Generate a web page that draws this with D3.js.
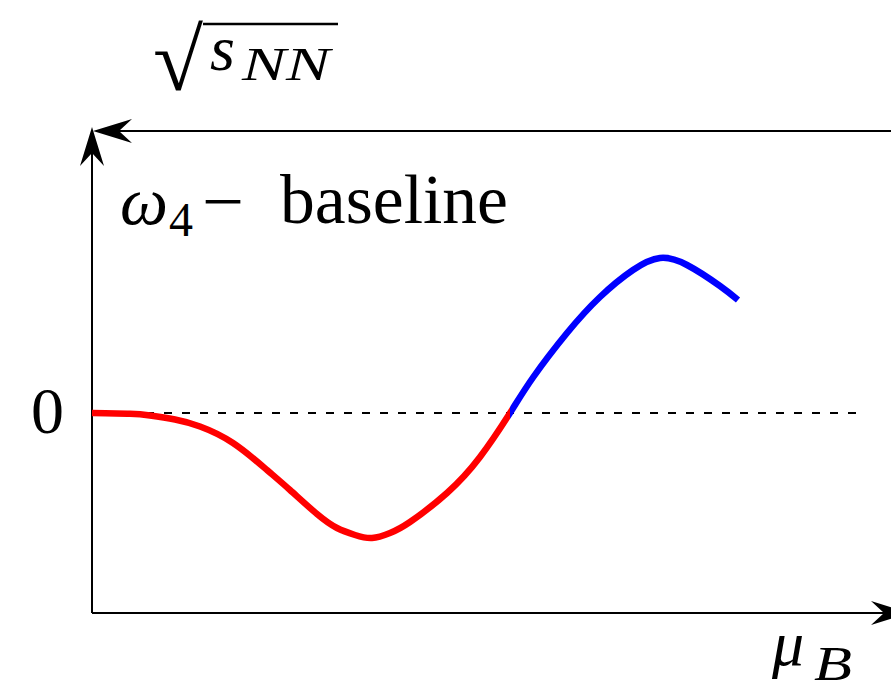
<!DOCTYPE html>
<html>
<head>
<meta charset="utf-8">
<script src="https://cdn.jsdelivr.net/npm/d3@7"></script>
<style>
  html, body { margin: 0; padding: 0; background: #fff; }
  svg { display: block; }
  .math { font-family: "Liberation Serif", "DejaVu Serif", serif; font-style: italic; }
  .roman { font-family: "Liberation Serif", "DejaVu Serif", serif; }
</style>
</head>
<body>
<svg id="chart" width="891" height="698"></svg>
<script>
// Sketch of omega_4 minus its baseline along mu_B:
// negative dip (red) before the zero crossing, positive bump (blue) after it.
const muBRed = [0, 0.38, 0.58, 0.83, 1.08, 1.41, 1.75, 1.98, 2.25, 2.45, 2.63, 2.80, 2.98, 3.18, 3.55, 3.88, 4.18];
const omegaRed = [0, -0.008, -0.025, -0.065, -0.135, -0.30, -0.57, -0.77, -1.01, -1.15, -1.22, -1.25, -1.20, -1.09, -0.80, -0.44, 0];
const muBBlue = [4.18, 4.41, 4.75, 5.08, 5.41, 5.68, 5.95, 6.28, 6.46];
const omegaBlue = [0, 0.355, 0.80, 1.16, 1.43, 1.55, 1.48, 1.27, 1.13];
const zeroTick = ["0"];
const xDomain = [0, 8];
const yDomain = [-2, 2.83];
const dashEnd = 7.66;

const svg = d3.select("#chart");
const x = d3.scaleLinear().domain(xDomain).range([92, 892]);
const y = d3.scaleLinear().domain(yDomain).range([613, 130]);

// stealth-style arrowhead, tip at origin pointing along +x
function arrow(g, tx, ty, angle) {
  const L = 39, W = 24, N = 26;
  g.append("path")
    .attr("d", `M0,0 L${-L},${-W / 2} L${-N},0 L${-L},${W / 2} Z`)
    .attr("transform", `translate(${tx},${ty}) rotate(${angle})`)
    .attr("fill", "#000");
}

const axes = svg.append("g");
// mu_B axis
axes.append("line")
  .attr("x1", x(0)).attr("x2", 891)
  .attr("y1", y(-2)).attr("y2", y(-2))
  .attr("stroke", "#000").attr("stroke-width", 2);
arrow(axes, 910, y(-2), 0);
// vertical axis
axes.append("line")
  .attr("x1", x(0)).attr("x2", x(0))
  .attr("y1", y(-2)).attr("y2", 150)
  .attr("stroke", "#000").attr("stroke-width", 2);
arrow(axes, x(0), 127, -90);
// sqrt(s_NN) axis, pointing left
axes.append("line")
  .attr("x1", 891).attr("x2", 110)
  .attr("y1", 131).attr("y2", 131)
  .attr("stroke", "#000").attr("stroke-width", 2);
arrow(axes, 93, 131, 180);

// zero reference
svg.append("line")
  .attr("x1", x(0)).attr("x2", x(dashEnd))
  .attr("y1", y(0)).attr("y2", y(0))
  .attr("stroke", "#000").attr("stroke-width", 2)
  .attr("stroke-dasharray", "8,10");

// one smooth spline through both branches, coloured by clipping at the crossing
const pts = muBRed.map((m, i) => [m, omegaRed[i]])
  .concat(muBBlue.slice(1).map((m, i) => [m, omegaBlue[i + 1]]));
const line = d3.line()
  .x(d => x(d[0]))
  .y(d => y(d[1]))
  .curve(d3.curveNatural);
const xCross = x(muBBlue[0]);

const defs = svg.append("defs");
defs.append("clipPath").attr("id", "clipRed")
  .append("rect").attr("x", 0).attr("y", 0).attr("width", xCross).attr("height", 698);
defs.append("clipPath").attr("id", "clipBlue")
  .append("rect").attr("x", xCross).attr("y", 0).attr("width", 891 - xCross).attr("height", 698);

svg.append("path")
  .datum(pts)
  .attr("d", line)
  .attr("clip-path", "url(#clipRed)")
  .attr("fill", "none").attr("stroke", "#ff0000").attr("stroke-width", 6.5);

svg.append("path")
  .datum(pts)
  .attr("d", line)
  .attr("clip-path", "url(#clipBlue)")
  .attr("fill", "none").attr("stroke", "#0000ff").attr("stroke-width", 6.5);

// labels
svg.append("text").attr("class", "roman")
  .attr("x", 64).attr("y", y(0) + 20)
  .attr("text-anchor", "end")
  .attr("font-size", 66)
  .text(zeroTick[0]);

svg.append("text").attr("class", "math")
  .attr("x", 120).attr("y", 224).attr("font-size", 68).text("ω");
svg.append("text").attr("class", "roman")
  .attr("x", 169).attr("y", 236).attr("font-size", 48).text("4");
svg.append("text").attr("class", "roman")
  .attr("x", 202).attr("y", 225).attr("font-size", 70)
  .attr("textLength", 42).attr("lengthAdjust", "spacingAndGlyphs").text("−");
svg.append("text").attr("class", "roman")
  .attr("x", 280).attr("y", 223).attr("font-size", 70)
  .attr("textLength", 228).attr("lengthAdjust", "spacingAndGlyphs").text("baseline");

svg.append("text").attr("class", "math")
  .attr("x", 772).attr("y", 665).attr("font-size", 64).text("μ");
svg.append("text").attr("class", "math")
  .attr("x", 814).attr("y", 680).attr("font-size", 48)
  .attr("textLength", 38).attr("lengthAdjust", "spacingAndGlyphs").text("B");

svg.append("text").attr("class", "roman")
  .attr("x", 153).attr("y", 90).attr("font-size", 88)
  .attr("textLength", 50).attr("lengthAdjust", "spacingAndGlyphs").text("√");
svg.append("text").attr("class", "math")
  .attr("x", 210).attr("y", 70).attr("font-size", 64).text("s");
svg.append("text").attr("class", "math")
  .attr("x", 242).attr("y", 80).attr("font-size", 46)
  .attr("textLength", 88).attr("lengthAdjust", "spacingAndGlyphs").text("NN");
svg.append("line")
  .attr("x1", 203).attr("x2", 338).attr("y1", 24).attr("y2", 24)
  .attr("stroke", "#000").attr("stroke-width", 2.5);
</script>
</body>
</html>
